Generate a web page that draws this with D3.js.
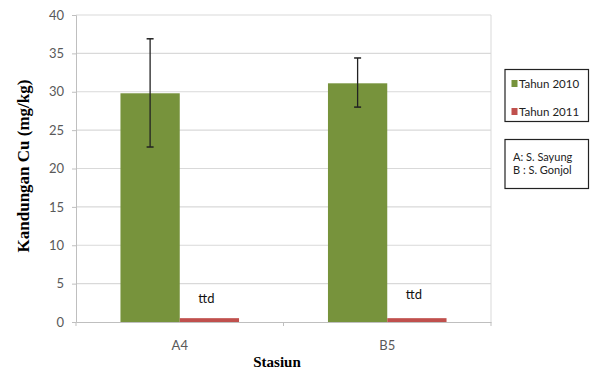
<!DOCTYPE html>
<html><head><meta charset="utf-8">
<script src="https://cdn.jsdelivr.net/npm/d3@7"></script>
<style>body{margin:0;background:#fff}</style>
</head><body>
<svg id="c" width="594" height="372"></svg>
<script>
const categories = ["A4", "B5"];
const seriesNames = ["Tahun 2010", "Tahun 2011"];
const values2010 = [29.8, 31.1];
const values2011 = [0.5, 0.5];
const errLow2010 = [22.8, 28.0];
const errHigh2010 = [36.9, 34.4];
const labels2011 = ["ttd", "ttd"];
const yTicks = [0, 5, 10, 15, 20, 25, 30, 35, 40];
const noteLines = ["A: S. Sayung", "B : S. Gonjol"];
const colors = ["#77933c", "#c0504d"];

const svg = d3.select("#c");
const pLeft = 76, pRight = 491, pTop = 15, pBottom = 322;
const sans = "Lato, 'Open Sans', sans-serif";
const y = d3.scaleLinear().domain([0, 40]).range([pBottom, pTop]);
const x = d3.scaleBand().domain(categories).range([pLeft, pRight]).padding(0);
const xs = d3.scaleBand().domain(seriesNames).range([0, x.bandwidth()]).paddingInner(0).paddingOuter(0.75);

// gridlines
svg.append("g").selectAll("line").data(yTicks.filter(d => d > 0)).join("line")
  .attr("x1", pLeft).attr("x2", pRight).attr("y1", d => y(d)).attr("y2", d => y(d))
  .attr("stroke", "#d9d9d9").attr("stroke-width", 1.2);

// right border
svg.append("line").attr("x1", pRight).attr("x2", pRight).attr("y1", pTop).attr("y2", pBottom)
  .attr("stroke", "#d9d9d9").attr("stroke-width", 1);

// y axis
const yAxis = svg.append("g").attr("transform", `translate(${pLeft},0)`)
  .call(d3.axisLeft(y).tickValues(yTicks).tickSize(4).tickPadding(8));
yAxis.select(".domain").attr("stroke", "#bfbfbf");
yAxis.selectAll(".tick line").attr("stroke", "#bfbfbf");
yAxis.selectAll("text").attr("fill", "#595959").style("font-family", sans).style("font-size", "13px");

// x axis
const xAxis = svg.append("g").attr("transform", `translate(0,${pBottom})`)
  .call(d3.axisBottom(x).tickSize(0).tickPadding(19));
xAxis.select(".domain").attr("stroke", "#bfbfbf");
xAxis.selectAll("text").attr("fill", "#595959").style("font-family", sans).style("font-size", "13px");
// category separator ticks
svg.append("g").selectAll("line").data([pLeft, ...categories.map(c => x(c) + x.bandwidth())]).join("line")
  .attr("x1", d => d).attr("x2", d => d).attr("y1", pBottom).attr("y2", pBottom + 4)
  .attr("stroke", "#bfbfbf");

// bars
const groups = svg.append("g").selectAll("g").data(categories).join("g")
  .attr("transform", c => `translate(${x(c)},0)`);
groups.append("rect")
  .attr("x", xs(seriesNames[0])).attr("width", xs.bandwidth())
  .attr("y", (c, i) => y(values2010[i])).attr("height", (c, i) => y(0) - y(values2010[i]))
  .attr("fill", colors[0]);
groups.append("rect")
  .attr("x", xs(seriesNames[1])).attr("width", xs.bandwidth())
  .attr("y", (c, i) => y(values2011[i])).attr("height", (c, i) => y(0) - y(values2011[i]))
  .attr("fill", colors[1]);

// error bars
const ex = xs(seriesNames[0]) + xs.bandwidth() / 2;
groups.append("line").attr("x1", ex).attr("x2", ex)
  .attr("y1", (c, i) => y(errHigh2010[i])).attr("y2", (c, i) => y(errLow2010[i]))
  .attr("stroke", "#222").attr("stroke-width", 1.3);
[errHigh2010, errLow2010].forEach(arr => {
  groups.append("line").attr("x1", ex - 3.5).attr("x2", ex + 3.5)
    .attr("y1", (c, i) => y(arr[i])).attr("y2", (c, i) => y(arr[i]))
    .attr("stroke", "#222").attr("stroke-width", 1.5);
});

// ttd labels
groups.append("text")
  .attr("x", xs(seriesNames[1]) + xs.bandwidth() / 2 - 3)
  .attr("y", (c, i) => i === 0 ? 303 : 299)
  .attr("text-anchor", "middle")
  .style("font-family", sans).style("font-size", "13px")
  .attr("fill", "#111").text((c, i) => labels2011[i]);

// axis titles
svg.append("text").attr("x", 277).attr("y", 367).attr("text-anchor", "middle")
  .style("font-family", "'Liberation Serif', serif").style("font-weight", "bold").style("font-size", "15px")
  .text("Stasiun");
svg.append("text").attr("transform", "translate(29,166) rotate(-90)").attr("text-anchor", "middle")
  .style("font-family", "'Liberation Serif', serif").style("font-weight", "bold").style("font-size", "17px")
  .text("Kandungan Cu (mg/kg)");

// legend
const lg = svg.append("g");
lg.append("rect").attr("x", 505).attr("y", 69.5).attr("width", 83.5).attr("height", 52)
  .attr("fill", "#fff").attr("stroke", "#222").attr("stroke-width", 1.2);
seriesNames.forEach((s, i) => {
  const cy = 83.5 + i * 28;
  lg.append("rect").attr("x", 511.5).attr("y", cy - 3.5).attr("width", 6).attr("height", 7).attr("fill", colors[i]);
  lg.append("text").attr("x", 519).attr("y", cy + 4)
    .style("font-family", sans).style("font-size", "11.5px").attr("fill", "#222").text(s);
});
lg.append("rect").attr("x", 505).attr("y", 139.5).attr("width", 83.5).attr("height", 49)
  .attr("fill", "#fff").attr("stroke", "#222").attr("stroke-width", 1.2);
noteLines.forEach((t, i) => {
  lg.append("text").attr("x", 513).attr("y", 161 + i * 12.5)
    .style("font-family", sans).style("font-size", "11px").attr("fill", "#222").text(t);
});
</script>
</body></html>
